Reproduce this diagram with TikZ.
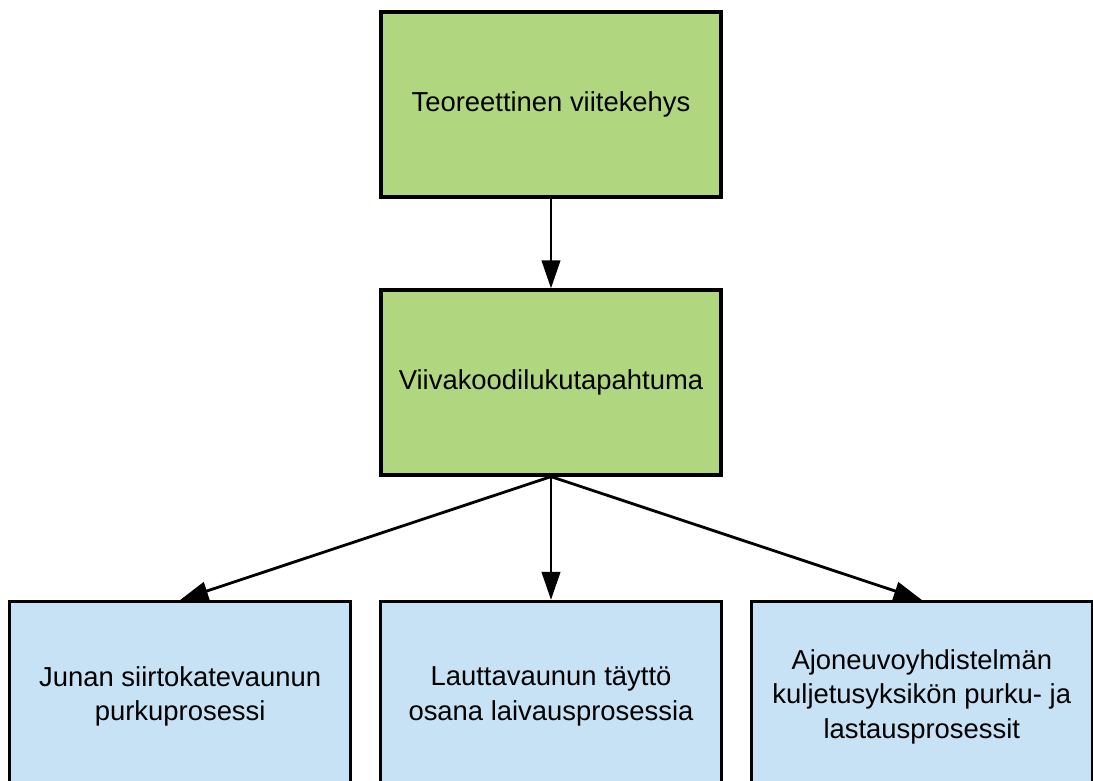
\documentclass[tikz,border=0pt]{standalone}
\usepackage{fontspec}
\setmainfont{Liberation Sans}
\usepackage{tikz}
\usetikzlibrary{positioning}
\usetikzlibrary{arrows.meta}
\definecolor{boxgreen}{RGB}{176,215,127}
\definecolor{boxblue}{RGB}{199,226,244}

\begin{document}
\begin{tikzpicture}[
    node distance=6.95cm and 9.27cm, % Global setup of box spacing
    ]
% ------------------------------------------------- 
\tikzset{
  base/.style={draw, line width=2.3pt, on grid, align=center, font=\fontsize{19.5}{24.5}\selectfont},
  proc/.style={base, rectangle, fill=boxgreen, minimum width=8.5cm, minimum height=4.625cm},
  task/.style={base, rectangle, fill=boxblue, minimum width=8.525cm, minimum height=4.75cm},
  line/.style={draw, line width=2pt, -{Triangle[length=0.7cm, width=0.46cm]}}
}
\useasboundingbox (0,0) rectangle (27.325,-19.525);
\clip (0,0) rectangle (27.325,-19.525);
\node [proc] (teo) at (13.775,-2.6125) {Teoreettinen viitekehys};
\node [proc, below=of teo] (lue) {Viivakoodilukutapahtuma};
\node [task, below=7.85cm of lue] (lau) {Lauttavaunun täyttö\\osana laivausprosessia};
\node [task, left=of lau] (jun) {Junan siirtokatevaunun\\purkuprosessi};
\node [task, right=of lau] (ajo) {Ajoneuvoyhdistelmän\\kuljetusyksikön purku- ja\\lastausprosessit};
\path [line] (teo) -- (lue);
\path [line] (lue.south) -- (jun.north);
\path [line] (lue.south) -- (lau.north);
\path [line] (lue.south) -- (ajo.north);
\end{tikzpicture}
\end{document}
